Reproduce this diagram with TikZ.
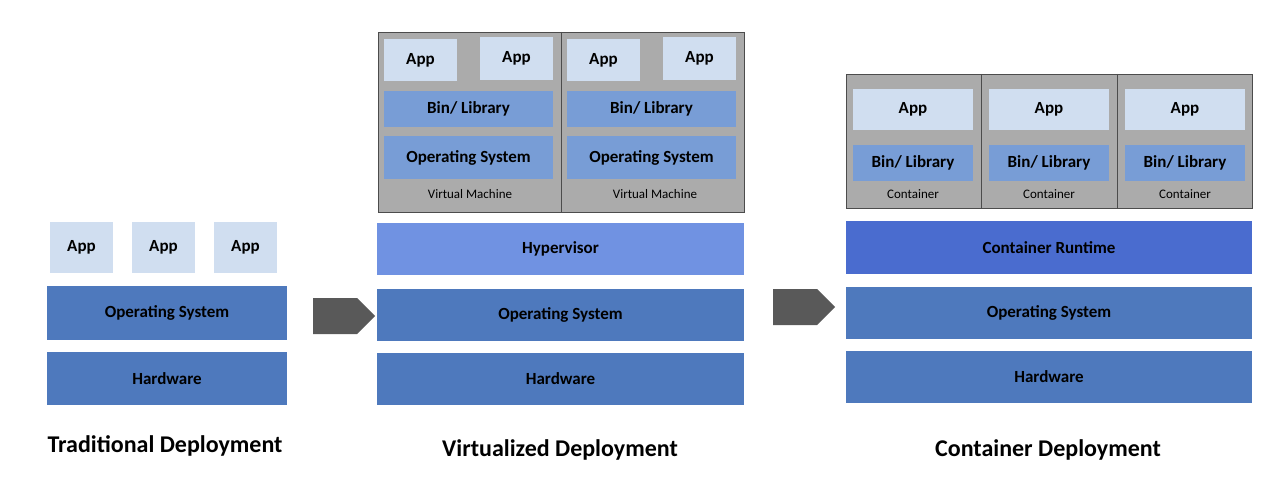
\documentclass[tikz,border=0pt]{standalone}
\usepackage{fontspec}
\setmainfont{Carlito}
\usetikzlibrary{shapes.arrows}
\definecolor{appc}{HTML}{D0DEF0}
\definecolor{osc}{HTML}{4E79BD}
\definecolor{binc}{HTML}{789DD6}
\definecolor{hypc}{HTML}{7092E2}
\definecolor{rtc}{HTML}{4A6CCF}
\definecolor{vmc}{HTML}{ABABAB}
\definecolor{arrc}{HTML}{595959}
\tikzset{
 box/.style={inner sep=0,outer sep=0,font=\fontsize{17}{17}\selectfont\bfseries,text=black},
 app/.style={box,fill=appc},
 os/.style={box,fill=osc},
 bin/.style={box,fill=binc},
 vm/.style={inner sep=0,outer sep=0,fill=vmc,draw=black!70,line width=0.8pt},
 small/.style={font=\fontsize{13}{13}\selectfont},
 title/.style={font=\fontsize{24}{24}\selectfont\bfseries},
 arr/.style={single arrow,fill=arrc,inner sep=0,minimum width=36pt,single arrow head extend=0pt,minimum height=62pt,single arrow tip angle=90}
}
\newcommand\bx[6]{\node[#1,minimum width=#4pt,minimum height=#5pt,anchor=north west] (#6) at (#2,#3) {};}
\begin{document}
\begin{tikzpicture}[x=1pt,y=-1pt]
\useasboundingbox (0,0) rectangle (1280,481);
% Traditional
\node[app,minimum width=63pt,minimum height=51pt] (ta1) at (81.5,247.5) {App};
\node[app,minimum width=63pt,minimum height=51pt] (ta2) at (163.5,247.5) {App};
\node[app,minimum width=63pt,minimum height=51pt] (ta3) at (245.5,247.5) {App};
\node[os,minimum width=240pt,minimum height=54pt] (tos) at (167,313) {Operating System};
\node[os,minimum width=240pt,minimum height=53pt] (thw) at (167,378.5) {Hardware};
\node[title] (tt) at (165,446) {Traditional Deployment};
\node[arr] (ar1) at (335,316) {};
% Virtualized
\node[vm,minimum width=366pt,minimum height=180pt] (vmbox) at (561,122) {};
\draw[black!70,line width=0.8pt] (vmbox.north) -- (vmbox.south);
\node[app,minimum width=73pt,minimum height=42pt] (va1) at (420.5,60) {App};
\node[app,minimum width=73pt,minimum height=43pt] (va2) at (516.5,58.5) {App};
\node[bin,minimum width=169pt,minimum height=36pt] (vb1) at (468.5,109) {Bin/ Library};
\node[bin,minimum width=169pt,minimum height=43pt] (vo1) at (468.5,157.5) {Operating System};
\node[small] (vl1) at (470,194) {Virtual Machine};
\node[app,minimum width=73pt,minimum height=42pt] (va3) at (603.5,60) {App};
\node[app,minimum width=73pt,minimum height=43pt] (va4) at (699.5,58.5) {App};
\node[bin,minimum width=169pt,minimum height=36pt] (vb2) at (651.5,109) {Bin/ Library};
\node[bin,minimum width=169pt,minimum height=43pt] (vo2) at (651.5,157.5) {Operating System};
\node[small] (vl2) at (655,194) {Virtual Machine};
\node[box,fill=hypc,minimum width=367pt,minimum height=52pt] (hyp) at (560.5,249) {Hypervisor};
\node[os,minimum width=367pt,minimum height=52pt] (vos) at (560.5,315) {Operating System};
\node[os,minimum width=367pt,minimum height=52pt] (vhw) at (560.5,379) {Hardware};
\node[title] (vt) at (560,450) {Virtualized Deployment};
\node[arr] (ar2) at (795,307) {};
% Container
\node[vm,minimum width=406pt,minimum height=134pt] (cbox) at (1049,141) {};
\draw[black!70,line width=0.8pt] (981,74) -- (981,208) (1117,74) -- (1117,208);
\foreach \i/\x in {1/913,2/1049,3/1185}{
 \node[app,minimum width=120pt,minimum height=41pt] (ca\i) at (\x,109.5) {App};
 \node[bin,minimum width=120pt,minimum height=36pt] (cb\i) at (\x,163) {Bin/ Library};
 \node[small] (cl\i) at (\x,194) {Container};
}
\node[box,fill=rtc,minimum width=406pt,minimum height=53pt] (crt) at (1049,247.5) {Container Runtime};
\node[os,minimum width=406pt,minimum height=52pt] (cos) at (1049,313) {Operating System};
\node[os,minimum width=406pt,minimum height=52pt] (chw) at (1049,377) {Hardware};
\node[title] (ct) at (1048,450) {Container Deployment};
\end{tikzpicture}
\end{document}
